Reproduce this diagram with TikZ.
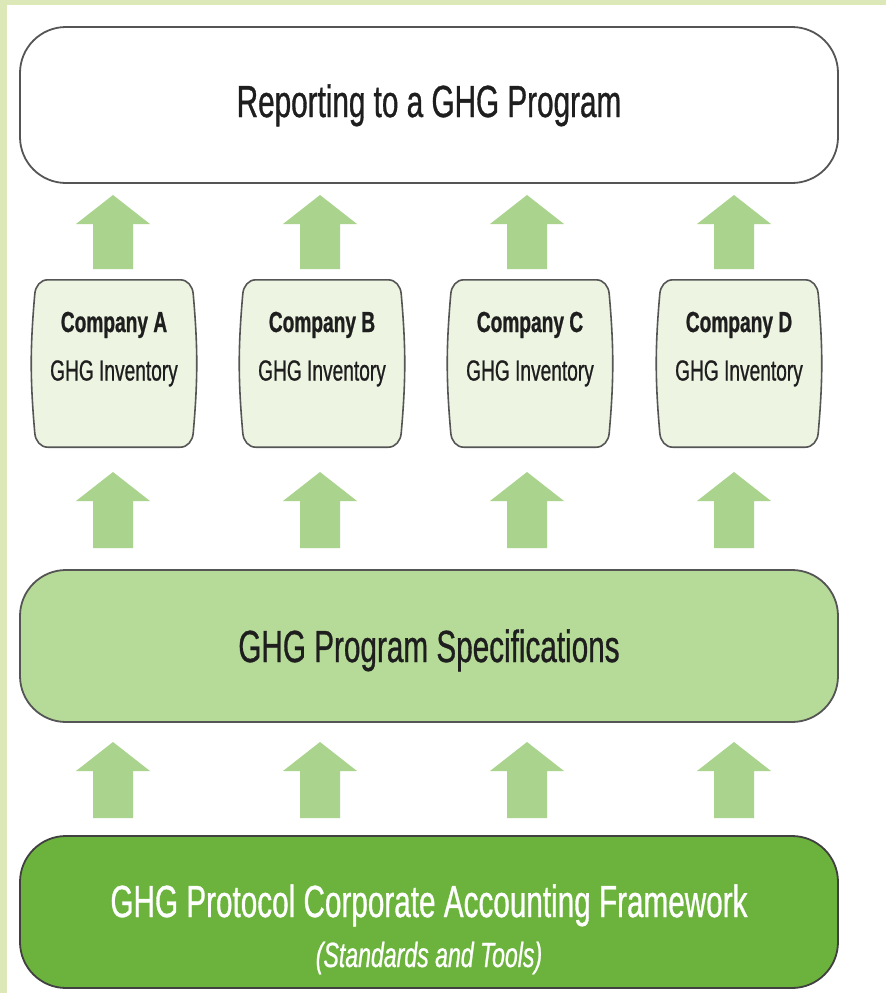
\documentclass[tikz,border=0pt]{standalone}
\usepackage{fontspec}
\setmainfont{Liberation Sans}[FakeStretch=0.66, UprightFeatures={FakeBold=0.7}, ItalicFeatures={FakeBold=0.7}, BoldFeatures={FakeBold=0.8}]
\usetikzlibrary{backgrounds,calc}
\definecolor{framegreen}{HTML}{DDE8B8}
\definecolor{arrowgreen}{HTML}{AAD48E}
\definecolor{midgreen}{HTML}{B6DA98}
\definecolor{darkgreen}{HTML}{6BB33C}
\definecolor{compfill}{HTML}{EDF5E2}
\definecolor{boxline}{HTML}{555555}
\definecolor{txt}{HTML}{1E1E1E}
\newcommand\blockarrow[3]{%
  \fill[arrowgreen] ({#1-20},#2) -- ({#1-20},{#3+29}) -- ({#1-37},{#3+29}) -- (#1,#3)
    -- ({#1+37},{#3+29}) -- ({#1+20},{#3+29}) -- ({#1+20},#2) -- cycle;}
\begin{document}
\begin{tikzpicture}[x=1pt,y=-1pt,
  bigbox/.style={draw=boxline, line width=1.8pt, rounded corners=46pt,
    minimum width=818pt, inner sep=0pt},
  compnode/.style={minimum width=156pt, minimum height=167pt, inner sep=0pt},
  compframe/.style={draw=boxline, line width=1.6pt, fill=compfill},
  bigtext/.style={font=\fontsize{45}{50}\selectfont, text=txt, anchor=base, inner sep=0pt},
  comptext/.style={font=\fontsize{29}{32}\selectfont, text=txt, anchor=base, inner sep=0pt},
]
\useasboundingbox (0,0) rectangle (886,993);
\begin{pgfonlayer}{background}
\fill[white] (0,0) rectangle (886,993);
\fill[framegreen] (0,0) rectangle (886,5);
\fill[framegreen] (0,0) rectangle (7,993);
\end{pgfonlayer}

% big boxes
\node[bigbox, fill=white, minimum height=156pt] (top) at (429,105) {};
\node[bigbox, fill=midgreen, minimum height=152pt] (mid) at (429,646) {};
\node[bigbox, fill=darkgreen, draw=black!75, minimum height=152pt] (bot) at (429,912) {};

\node[bigtext] (toplbl) at (429,117) {Reporting to a GHG Program};
\node[bigtext] (midlbl) at (429,662) {GHG Program Specifications};
\node[bigtext, text=white] (botlbl) at (429,917) {GHG Protocol Corporate Accounting Framework};
\node[bigtext, text=white, font=\fontsize{35}{40}\selectfont\itshape] (botsub) at (429,967) {(Standards and Tools)};

% company boxes
\node[compnode] (ca) at (114,363.5) {};
\node[compnode] (cb) at (322,363.5) {};
\node[compnode] (cc) at (530,363.5) {};
\node[compnode] (cd) at (739,363.5) {};
\begin{pgfonlayer}{background}
\foreach \n in {ca,cb,cc,cd}{
  \draw[compframe] ([xshift=12pt]\n.north west) -- ([xshift=-12pt]\n.north east)
    to[out=0,in=95] ([xshift=1pt,yshift=-14pt]\n.north east)
    to[out=-85,in=85] ([xshift=1pt,yshift=14pt]\n.south east)
    to[out=-95,in=0] ([xshift=-12pt]\n.south east)
    -- ([xshift=12pt]\n.south west)
    to[out=180,in=-85] ([xshift=-1pt,yshift=14pt]\n.south west)
    to[out=95,in=-95] ([xshift=-1pt,yshift=-14pt]\n.north west)
    to[out=85,in=180] ([xshift=12pt]\n.north west) -- cycle;
}
\end{pgfonlayer}
\foreach \n/\l in {ca/A,cb/B,cc/C,cd/D}{
  \node[comptext, font=\fontsize{29}{32}\selectfont\bfseries] (\n-name) at ($(\n.center)+(0,-31.5)$) {Company \l};
  \node[comptext] (\n-inv) at ($(\n.center)+(0,17)$) {GHG Inventory};
}

% arrows
\foreach \x in {113,320,527,734}{
  \blockarrow{\x}{269}{195}
  \blockarrow{\x}{548}{472}
  \blockarrow{\x}{818}{742}
}
\end{tikzpicture}
\end{document}
